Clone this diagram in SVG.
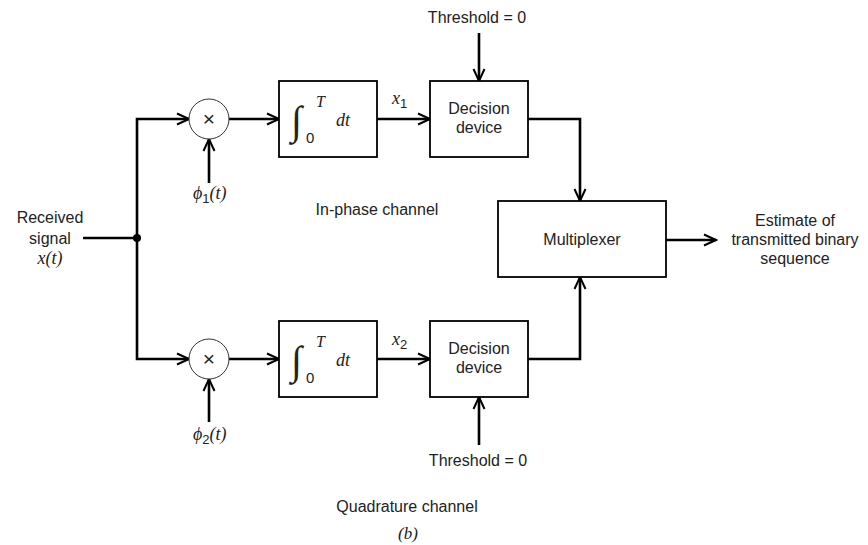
<svg xmlns="http://www.w3.org/2000/svg" width="868" height="545" viewBox="0 0 868 545">
<defs>
<marker id="arr" markerUnits="userSpaceOnUse" markerWidth="16" markerHeight="14" viewBox="0 0 16 14" refX="14" refY="7" orient="auto">
<path d="M2,1.5 L14,7 L2,12.5" fill="none" stroke="#000" stroke-width="2"/>
</marker>
</defs>
<style>
.t{font-family:"Liberation Sans",Arial,sans-serif;font-size:16px;fill:#222;text-anchor:middle}
.m{font-family:"Liberation Serif","Times New Roman",serif;font-style:italic;fill:#222}
.s{font-family:"Liberation Sans",Arial,sans-serif;fill:#222}
.box{fill:#fff;stroke:#000;stroke-width:1.8}
.circ{fill:#fff;stroke:#333;stroke-width:1}
.w{fill:none;stroke:#000;stroke-width:2.6}
.a{fill:none;stroke:#000;stroke-width:2.6;marker-end:url(#arr)}
</style>
<rect width="868" height="545" fill="#fff"/>
<g id="connectors">
<line class="w" x1="83" y1="238" x2="137" y2="238"/>
<polyline class="a" points="137,238 137,119 189,119"/>
<polyline class="a" points="137,238 137,359 189,359"/>
<line class="a" x1="229" y1="119" x2="279" y2="119"/>
<line class="a" x1="229" y1="359" x2="279" y2="359"/>
<line class="a" x1="209" y1="183" x2="209" y2="139"/>
<line class="a" x1="209" y1="422" x2="209" y2="379"/>
<line class="a" x1="377" y1="119" x2="430" y2="119"/>
<line class="a" x1="377" y1="359" x2="430" y2="359"/>
<line class="a" x1="479" y1="33" x2="479" y2="81"/>
<line class="a" x1="479" y1="445" x2="479" y2="397"/>
<polyline class="a" points="528,119 580,119 580,201"/>
<polyline class="a" points="528,359 580,359 580,277"/>
<line class="a" x1="666" y1="240" x2="716" y2="240"/>
<circle cx="137" cy="238" r="4" fill="#000"/>
</g>
<g id="input">
<text class="t" x="50" y="223">Received</text>
<text class="t" x="50" y="244">signal</text>
<text class="m" x="50" y="264" font-size="18" text-anchor="middle">x(t)</text>
</g>
<g id="mult1">
<circle class="circ" cx="209" cy="119" r="20"/>
<text class="s" x="209" y="126" font-size="21" text-anchor="middle" fill="#444">×</text>
</g>
<g id="phi1">
<text x="193" y="199" font-size="18"><tspan class="m">ϕ</tspan><tspan class="s" font-size="13" dy="4">1</tspan><tspan class="m" dy="-4">(t)</tspan></text>
</g>
<g id="mult2">
<circle class="circ" cx="209" cy="359" r="20"/>
<text class="s" x="209" y="366" font-size="21" text-anchor="middle" fill="#444">×</text>
</g>
<g id="phi2">
<text x="193" y="440" font-size="18"><tspan class="m">ϕ</tspan><tspan class="s" font-size="13" dy="4">2</tspan><tspan class="m" dy="-4">(t)</tspan></text>
</g>
<g id="int1">
<rect class="box" x="279" y="81" width="98" height="76"/>
<text class="m" x="291" y="134" font-size="40" font-style="normal">∫</text>
<text class="m" x="316" y="107" font-size="16">T</text>
<text class="s" x="306" y="143" font-size="15">0</text>
<text class="m" x="336" y="126" font-size="18">dt</text>
</g>
<g id="int2">
<rect class="box" x="279" y="321" width="98" height="76"/>
<text class="m" x="291" y="374" font-size="40" font-style="normal">∫</text>
<text class="m" x="316" y="347" font-size="16">T</text>
<text class="s" x="306" y="383" font-size="15">0</text>
<text class="m" x="336" y="366" font-size="18">dt</text>
</g>
<g id="x1">
<text x="392" y="104" font-size="18"><tspan class="m">x</tspan><tspan class="s" font-size="13" dy="4">1</tspan></text>
</g>
<g id="x2">
<text x="392" y="345" font-size="18"><tspan class="m">x</tspan><tspan class="s" font-size="13" dy="4">2</tspan></text>
</g>
<g id="dec1">
<rect class="box" x="430" y="81" width="98" height="76"/>
<text class="t" x="479" y="114">Decision</text>
<text class="t" x="479" y="133">device</text>
</g>
<g id="dec2">
<rect class="box" x="430" y="321" width="98" height="76"/>
<text class="t" x="479" y="354">Decision</text>
<text class="t" x="479" y="373">device</text>
</g>
<g id="thr1"><text class="t" x="477" y="23">Threshold = 0</text></g>
<g id="thr2"><text class="t" x="478" y="466">Threshold = 0</text></g>
<g id="mux">
<rect class="box" x="498" y="201" width="168" height="76"/>
<text class="t" x="582" y="245">Multiplexer</text>
</g>
<g id="output">
<text class="t" x="795" y="226">Estimate of</text>
<text class="t" x="795" y="245">transmitted binary</text>
<text class="t" x="795" y="264">sequence</text>
</g>
<g id="labels">
<text class="t" x="377" y="215">In-phase channel</text>
<text class="t" x="407" y="512">Quadrature channel</text>
<text x="408" y="539" font-size="17" text-anchor="middle"><tspan class="m" font-style="normal">(</tspan><tspan class="m">b</tspan><tspan class="m" font-style="normal">)</tspan></text>
</g>
</svg>
